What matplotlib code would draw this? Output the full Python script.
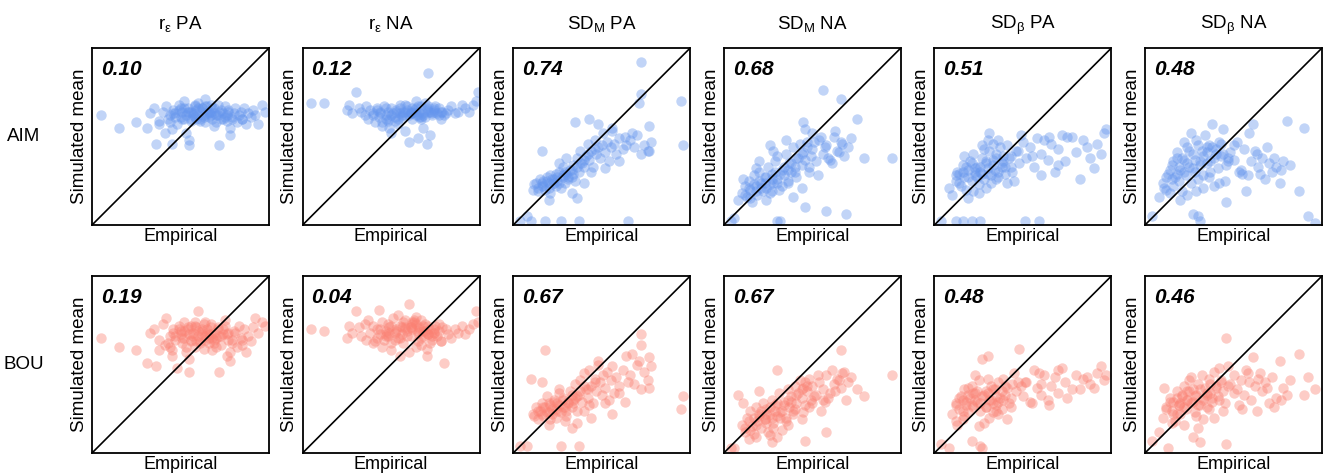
import matplotlib
matplotlib.use("Agg")
import matplotlib.pyplot as plt

plt.rcParams["font.family"] = ["Liberation Sans", "DejaVu Sans"]
plt.rcParams["mathtext.fontset"] = "custom"
plt.rcParams["mathtext.rm"] = "Liberation Sans"
plt.rcParams["mathtext.it"] = "Liberation Sans:italic"
plt.rcParams["mathtext.bf"] = "Liberation Sans:bold"
plt.rcParams["mathtext.default"] = "regular"

# ---- labels -------------------------------------------------------------
titles = [r"r$_{\varepsilon}$ PA", r"r$_{\varepsilon}$ NA",
          r"SD$_{M}$ PA", r"SD$_{M}$ NA",
          r"SD$_{\beta}$ PA", r"SD$_{\beta}$ NA"]
models = ["AIM", "BOU"]
corr_aim = ["0.10", "0.12", "0.74", "0.68", "0.51", "0.48"]
corr_bou = ["0.19", "0.04", "0.67", "0.67", "0.48", "0.46"]

# ---- data (scaled 0-100 within each measure) ----------------------------
# r_eps PA
emp_1 = [5, 15, 25, 31, 33, 35, 36, 38, 40, 41,
         42, 43, 44, 45, 46, 47, 48, 49, 50, 51,
         52, 52, 53, 54, 55, 55, 56, 57, 58, 58,
         59, 60, 60, 61, 62, 62, 63, 64, 64, 65,
         65, 66, 67, 67, 68, 69, 69, 70, 71, 72,
         72, 73, 74, 75, 76, 76, 77, 78, 79, 80,
         81, 82, 83, 84, 85, 86, 87, 88, 90, 91,
         44, 47, 50, 53, 56, 59, 62, 66, 70, 74,
         92, 94, 96, 98, 38, 55, 45, 69, 78, 85,
         46, 49, 51, 54, 57, 60, 63, 66, 68, 71,
         73, 75, 77, 79, 58, 61, 64, 67, 52, 56]
aim_1 = [62, 55, 58, 55, 63, 66, 46, 59, 64, 52,
         67, 60, 62, 46, 65, 63, 57, 68, 61, 64,
         70, 60, 62, 66, 64, 45, 59, 63, 67, 61,
         65, 62, 69, 60, 66, 64, 62, 71, 58, 63,
         67, 61, 64, 68, 60, 66, 63, 62, 68, 45,
         64, 60, 63, 67, 59, 62, 65, 55, 61, 63,
         66, 58, 62, 64, 60, 66, 57, 63, 61, 65,
         58, 61, 66, 52, 64, 60, 66, 63, 58, 60,
         62, 57, 68, 64, 57, 48, 54, 56, 51, 60,
         63, 65, 60, 64, 62, 66, 61, 64, 66, 62,
         65, 61, 64, 60, 68, 59, 67, 62, 66, 60]
bou_1 = [65, 60, 58, 51, 68, 70, 49, 64, 73, 61,
         76, 62, 66, 58, 70, 64, 48, 72, 67, 62,
         74, 65, 60, 70, 67, 46, 63, 68, 72, 60,
         71, 66, 80, 63, 69, 67, 59, 74, 64, 68,
         70, 62, 67, 73, 58, 68, 64, 65, 71, 46,
         66, 61, 70, 75, 55, 67, 64, 52, 62, 69,
         68, 60, 72, 65, 61, 70, 57, 66, 63, 71,
         60, 66, 69, 57, 72, 63, 70, 65, 60, 67,
         76, 68, 74, 72, 58, 53, 55, 62, 57, 64,
         68, 70, 65, 71, 66, 69, 73, 67, 65, 70,
         66, 72, 68, 64, 74, 62, 66, 71, 69, 64]

# r_eps NA
emp_2 = [5, 12, 25, 26, 28, 30, 32, 33, 35, 36,
         37, 38, 40, 41, 42, 43, 44, 45, 46, 47,
         48, 48, 49, 50, 51, 52, 53, 54, 55, 56,
         57, 58, 59, 60, 61, 62, 62, 63, 64, 65,
         66, 67, 68, 69, 70, 71, 72, 73, 74, 75,
         76, 77, 78, 79, 80, 82, 84, 86, 88, 90,
         92, 94, 96, 98, 40, 45, 50, 55, 60, 65,
         70, 63, 66, 68, 71, 74, 52, 57, 47, 42,
         61, 64, 67, 69, 72, 58, 54, 78, 81, 99,
         44, 47, 50, 53, 56, 59, 62, 65, 68, 71,
         74, 77, 49, 55, 61, 67, 73, 58, 64, 70]
aim_2 = [69, 69, 65, 68, 63, 75, 66, 64, 62, 67,
         60, 65, 63, 58, 66, 61, 64, 56, 67, 62,
         64, 59, 55, 66, 63, 61, 65, 60, 68, 62,
         64, 53, 67, 62, 63, 66, 60, 65, 70, 62,
         64, 67, 63, 61, 66, 86, 64, 62, 65, 67,
         63, 66, 60, 64, 62, 65, 67, 63, 64, 68,
         66, 64, 68, 70, 62, 58, 52, 63, 47, 49,
         46, 64, 61, 55, 67, 64, 59, 62, 60, 65,
         63, 66, 60, 69, 51, 64, 57, 64, 63, 75,
         63, 66, 62, 64, 61, 65, 63, 67, 62, 64,
         66, 62, 60, 66, 64, 61, 63, 68, 62, 65]
bou_2 = [70, 69, 65, 72, 68, 80, 71, 66, 73, 64,
         75, 68, 72, 63, 70, 81, 67, 74, 64, 69,
         73, 66, 71, 62, 76, 68, 70, 65, 72, 67,
         74, 71, 69, 84, 66, 73, 70, 75, 60, 68,
         71, 65, 69, 73, 55, 67, 70, 64, 68, 72,
         66, 69, 63, 71, 51, 67, 65, 70, 68, 72,
         67, 70, 73, 80, 62, 60, 58, 55, 57, 63,
         59, 74, 70, 66, 72, 68, 64, 62, 66, 65,
         71, 77, 61, 69, 62, 75, 78, 63, 70, 74,
         70, 67, 72, 69, 71, 66, 74, 69, 72, 67,
         70, 73, 68, 65, 71, 75, 66, 70, 73, 68]

# SD_M PA
emp_3 = [4, 10, 18, 27, 37, 65, 8, 11, 13, 14,
         15, 16, 17, 18, 19, 20, 21, 21, 22, 23,
         24, 24, 25, 26, 27, 28, 28, 29, 30, 31,
         32, 33, 34, 35, 36, 37, 38, 39, 40, 41,
         42, 43, 44, 45, 46, 47, 48, 49, 50, 51,
         52, 53, 54, 55, 56, 57, 58, 60, 62, 64,
         66, 68, 70, 72, 74, 76, 78, 72, 71, 77,
         72, 77, 30, 33, 36, 40, 44, 48, 52, 56,
         60, 63, 67, 95, 96, 20, 26, 16, 43, 35,
         12, 14, 16, 17, 19, 20, 22, 23, 25, 26,
         28, 29, 31, 33, 34, 36, 38, 40, 42, 46]
aim_3 = [2, 2, 2, 2, 2, 2, 5, 20, 24, 21,
         26, 22, 25, 20, 27, 24, 18, 28, 23, 26,
         29, 22, 25, 30, 21, 27, 33, 24, 29, 26,
         31, 27, 34, 25, 38, 30, 42, 35, 33, 39,
         46, 37, 42, 33, 48, 40, 44, 38, 45, 52,
         41, 47, 36, 44, 53, 46, 40, 49, 43, 45,
         48, 44, 51, 40, 45, 42, 47, 74, 69, 56,
         92, 42, 38, 18, 15, 24, 30, 57, 32, 55,
         36, 50, 52, 70, 45, 14, 35, 42, 60, 58,
         23, 19, 24, 22, 25, 21, 26, 24, 27, 24,
         28, 30, 27, 31, 29, 33, 35, 37, 40, 43]
bou_3 = [4, 42, 58, 4, 4, 40, 4, 22, 26, 19,
         24, 28, 21, 26, 32, 23, 19, 27, 22, 30,
         25, 20, 28, 34, 23, 26, 30, 18, 24, 28,
         35, 26, 30, 39, 24, 33, 41, 29, 45, 36,
         31, 47, 38, 28, 42, 35, 52, 40, 33, 44,
         37, 46, 30, 41, 49, 34, 43, 38, 47, 55,
         44, 39, 50, 36, 46, 41, 49, 61, 52, 37,
         67, 54, 21, 14, 17, 24, 20, 50, 28, 22,
         34, 29, 56, 25, 32, 16, 36, 40, 27, 31,
         21, 24, 22, 26, 23, 28, 25, 29, 24, 27,
         31, 26, 29, 33, 28, 32, 35, 38, 36, 40]

# SD_M NA
emp_4 = [4, 6, 30, 46, 58, 69, 32, 8, 10, 12,
         13, 14, 15, 16, 17, 18, 19, 20, 21, 22,
         23, 24, 25, 26, 27, 28, 29, 30, 31, 33,
         34, 35, 36, 37, 38, 39, 40, 41, 42, 43,
         44, 45, 46, 47, 48, 49, 50, 52, 54, 56,
         58, 60, 62, 64, 66, 68, 70, 72, 56, 66,
         75, 79, 45, 46, 26, 28, 35, 30, 39, 50,
         53, 57, 61, 63, 65, 67, 20, 24, 27, 33,
         36, 40, 44, 48, 51, 55, 59, 95, 18, 11,
         12, 14, 15, 17, 18, 20, 21, 23, 24, 26,
         27, 29, 30, 32, 34, 36, 38, 41, 44, 47]
aim_4 = [2, 4, 2, 10, 8, 6, 2, 14, 18, 22,
         16, 25, 20, 13, 28, 22, 17, 30, 24, 19,
         27, 21, 33, 18, 29, 24, 36, 26, 20, 31,
         28, 40, 24, 35, 30, 44, 33, 27, 38, 46,
         34, 41, 37, 47, 30, 39, 43, 36, 48, 40,
         45, 37, 50, 42, 47, 39, 44, 49, 76, 71,
         60, 38, 58, 54, 45, 42, 48, 39, 16, 52,
         28, 44, 35, 53, 41, 46, 36, 14, 19, 22,
         25, 30, 21, 33, 47, 50, 38, 38, 32, 26,
         17, 21, 15, 23, 19, 25, 21, 24, 27, 23,
         26, 30, 24, 29, 33, 31, 35, 38, 40, 44]
bou_4 = [3, 3, 47, 7, 12, 30, 20, 33, 16, 12,
         20, 8, 24, 15, 11, 26, 18, 22, 14, 28,
         19, 25, 12, 22, 30, 17, 27, 21, 34, 24,
         29, 20, 36, 26, 32, 22, 38, 28, 34, 41,
         31, 37, 27, 35, 42, 30, 38, 33, 40, 36,
         44, 34, 39, 42, 37, 46, 40, 43, 30, 58,
         36, 32, 23, 40, 10, 14, 18, 9, 24, 28,
         44, 29, 47, 35, 41, 45, 35, 17, 6, 13,
         16, 25, 19, 26, 32, 24, 31, 44, 9, 28,
         14, 18, 13, 20, 16, 21, 24, 19, 22, 26,
         20, 24, 28, 23, 27, 30, 29, 33, 36, 38]

# SD_beta PA
emp_5 = [4, 12, 16, 21, 26, 51, 59, 8, 10, 12,
         14, 15, 16, 17, 18, 19, 20, 21, 22, 23,
         24, 25, 26, 27, 28, 29, 30, 31, 32, 33,
         34, 35, 36, 37, 38, 39, 40, 41, 42, 44,
         46, 48, 50, 52, 54, 56, 58, 60, 62, 64,
         66, 68, 70, 72, 74, 78, 80, 84, 88, 92,
         96, 49, 31, 22, 28, 33, 36, 19, 25, 43,
         60, 65, 70, 75, 82, 86, 90, 94, 45, 55,
         17, 23, 29, 35, 39, 13, 27, 41, 97, 30,
         12, 14, 16, 18, 19, 21, 23, 24, 26, 27,
         29, 30, 32, 33, 35, 36, 38, 40, 43, 47]
aim_5 = [2, 2, 2, 2, 2, 2, 2, 21, 17, 25,
         29, 22, 34, 27, 20, 31, 36, 25, 40, 28,
         33, 23, 30, 38, 26, 35, 29, 42, 24, 37,
         31, 40, 27, 44, 33, 36, 29, 45, 38, 30,
         42, 35, 47, 38, 44, 33, 49, 40, 48, 37,
         46, 30, 43, 51, 36, 50, 41, 48, 38, 46,
         52, 51, 52, 19, 43, 46, 48, 15, 18, 33,
         28, 50, 34, 50, 26, 44, 32, 40, 25, 39,
         39, 32, 21, 26, 39, 30, 45, 24, 54, 48,
         28, 24, 30, 33, 27, 35, 30, 27, 33, 29,
         36, 32, 28, 34, 38, 30, 35, 33, 39, 42]
bou_5 = [5, 18, 30, 7, 4, 40, 45, 3, 22, 28,
         25, 32, 19, 36, 27, 23, 31, 38, 26, 34,
         29, 41, 24, 53, 33, 26, 55, 30, 38, 23,
         36, 27, 40, 31, 25, 42, 33, 37, 28, 39,
         35, 59, 32, 40, 29, 47, 37, 33, 44, 30,
         38, 43, 34, 48, 40, 36, 44, 42, 39, 45,
         41, 38, 20, 34, 17, 28, 22, 37, 15, 26,
         39, 27, 47, 31, 36, 43, 37, 49, 45, 28,
         21, 44, 35, 24, 30, 16, 3, 19, 44, 42,
         27, 31, 24, 29, 33, 27, 30, 35, 28, 32,
         26, 34, 30, 36, 32, 29, 35, 38, 31, 40]

# SD_beta NA
emp_6 = [4, 27, 30, 31, 46, 8, 10, 12, 13, 14,
         15, 16, 17, 18, 19, 20, 21, 22, 23, 24,
         25, 26, 27, 28, 29, 30, 31, 32, 33, 34,
         35, 36, 37, 38, 39, 40, 41, 42, 43, 44,
         46, 48, 50, 52, 54, 56, 58, 60, 62, 64,
         66, 68, 70, 72, 74, 76, 78, 80, 61, 55,
         39, 22, 26, 45, 50, 57, 63, 69, 77, 87,
         92, 96, 18, 24, 33, 36, 42, 47, 53, 59,
         20, 29, 35, 44, 11, 15, 65, 73, 82, 90,
         12, 14, 16, 18, 19, 21, 22, 24, 25, 27,
         28, 30, 31, 33, 35, 37, 38, 40, 43, 47]
aim_6 = [5, 6, 5, 2, 13, 16, 24, 20, 29, 18,
         34, 22, 27, 41, 25, 31, 19, 37, 28, 44,
         33, 24, 40, 30, 48, 26, 36, 42, 28, 51,
         35, 45, 30, 57, 38, 43, 32, 47, 39, 54,
         34, 41, 37, 47, 31, 43, 28, 36, 42, 33,
         38, 26, 35, 30, 33, 24, 36, 59, 57, 29,
         22, 47, 52, 25, 45, 19, 40, 44, 31, 19,
         5, 1, 38, 17, 21, 27, 24, 36, 30, 52,
         14, 19, 44, 40, 21, 26, 29, 38, 34, 55,
         27, 31, 36, 29, 33, 38, 30, 35, 42, 32,
         37, 45, 34, 39, 41, 36, 44, 40, 46, 38]
bou_6 = [7, 9, 14, 6, 5, 12, 20, 26, 3, 31,
         24, 29, 18, 35, 27, 22, 32, 38, 25, 30,
         41, 28, 36, 23, 33, 39, 27, 44, 31, 37,
         26, 42, 34, 29, 46, 38, 32, 48, 40, 35,
         65, 39, 44, 36, 41, 33, 45, 30, 38, 42,
         35, 40, 28, 43, 31, 52, 37, 33, 54, 25,
         20, 16, 43, 28, 34, 47, 24, 37, 30, 56,
         43, 36, 22, 35, 19, 25, 30, 49, 27, 40,
         28, 21, 33, 24, 37, 17, 45, 26, 41, 33,
         25, 29, 22, 31, 27, 33, 26, 30, 35, 29,
         32, 27, 36, 30, 34, 39, 31, 37, 41, 38]

empirical = [emp_1, emp_2, emp_3, emp_4, emp_5, emp_6]
simulated = {"AIM": [aim_1, aim_2, aim_3, aim_4, aim_5, aim_6],
             "BOU": [bou_1, bou_2, bou_3, bou_4, bou_5, bou_6]}
corr_text = {"AIM": corr_aim, "BOU": corr_bou}
colors = {"AIM": "#6495ED", "BOU": "#FA8072"}

# ---- figure -------------------------------------------------------------
W, H = 1325, 476
fig = plt.figure(figsize=(W / 100, H / 100), dpi=100)

left0, step, size = 92, 210.6, 177
tops = [48, 276]

for r, model in enumerate(models):
    for c in range(6):
        x0 = left0 + c * step
        ax = fig.add_axes([x0 / W, 1 - (tops[r] + size) / H, size / W, size / H])
        ax.scatter(empirical[c], simulated[model][c], s=56,
                   color=colors[model], alpha=0.4, linewidths=0, zorder=2)
        ax.plot([0, 100], [0, 100], color="black", lw=1.2, zorder=3)
        ax.set_xlim(0, 100)
        ax.set_ylim(0, 100)
        ax.set_xticks([])
        ax.set_yticks([])
        for sp in ax.spines.values():
            sp.set_linewidth(1.3)
            sp.set_color("black")
        ax.text(0.05, 0.935, corr_text[model][c], transform=ax.transAxes,
                ha="left", va="top", fontsize=15, fontweight="bold",
                fontstyle="italic", zorder=4)
        ax.set_xlabel("Empirical", fontsize=13, labelpad=2)
        ax.set_ylabel("Simulated mean", fontsize=13.5, labelpad=3)
        if r == 0:
            ax.set_title(titles[c], fontsize=13.5, pad=14)
    fig.text(24 / W, 1 - (tops[r] + size / 2) / H, model, fontsize=13.5,
             ha="center", va="center")

fig.savefig("out.png", dpi=100)
